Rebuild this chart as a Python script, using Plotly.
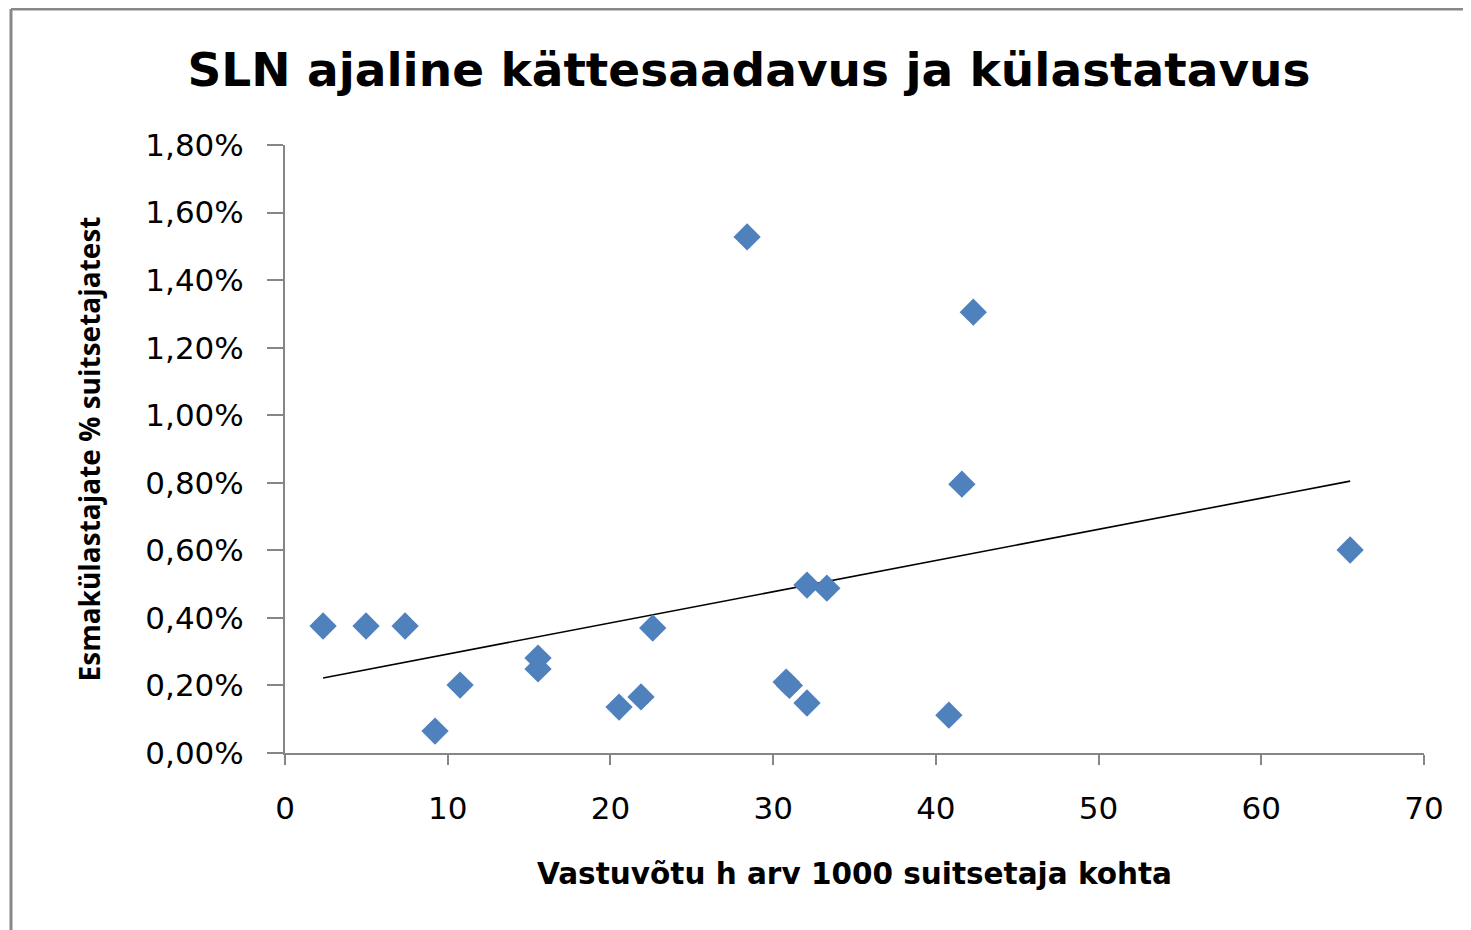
import plotly.graph_objects as go

# Data
visits_per_1000 = [2.34, 4.98, 7.38, 9.22, 10.76, 15.55, 15.55, 20.53, 21.88, 22.6,
                   28.4, 30.8, 31.0, 32.08, 32.08, 33.3, 40.8, 41.6, 42.3, 65.46]
first_visit_pct = [0.00376, 0.00376, 0.00376, 0.00065, 0.00201, 0.00281, 0.00249, 0.00136,
                   0.00166, 0.00370, 0.01528, 0.00210, 0.00200, 0.00148, 0.00497, 0.00488,
                   0.00112, 0.00796, 0.01305, 0.00601]
trend_x = [2.34, 65.46]
trend_y = [0.00222, 0.00805]

x_ticks = [0, 10, 20, 30, 40, 50, 60, 70]
y_ticks = [0, 0.002, 0.004, 0.006, 0.008, 0.010, 0.012, 0.014, 0.016, 0.018]

title_text = "SLN ajaline kättesaadavus ja külastatavus"
x_title = "Vastuvõtu h arv 1000 suitsetaja kohta"
y_title = "Esmakülastajate % suitsetajatest"

fig = go.Figure()
fig.add_trace(go.Scatter(
    x=trend_x, y=trend_y, mode="lines",
    line=dict(color="black", width=1.6), hoverinfo="skip", showlegend=False))
fig.add_trace(go.Scatter(
    x=visits_per_1000, y=first_visit_pct, mode="markers",
    marker=dict(symbol="diamond", size=21, color="#4F81BD"), showlegend=False))

# page is offset by 8px (body margin)
OFF = 8
W, H = 1471 - OFF, 930 - OFF
L, T = 285 - OFF, 145 - OFF
R = W - (1424 - OFF)
B = H - (753 - OFF)
pw, ph = W - L - R, H - T - B

def px(xp):
    return (xp - L) / pw

def py(yp):
    return (H - B - yp) / ph

fig.update_layout(
    width=W, height=H,
    margin=dict(l=L, r=R, t=T, b=B, autoexpand=False),
    paper_bgcolor="white", plot_bgcolor="white",
    separators=", ",
    title=dict(text=title_text, x=(749 - OFF) / W, xanchor="center", y=1 - (70 - OFF) / H,
               yanchor="middle",
               font=dict(family="DejaVu Sans", size=47, color="black", weight="bold")),
    xaxis=dict(range=[0, 70], tickvals=x_ticks, showgrid=False, zeroline=False,
               showline=True, linecolor="#868686", linewidth=2,
               ticks="outside", ticklen=10, tickwidth=2, tickcolor="#868686",
               tickfont=dict(family="DejaVu Sans", size=31, color="black"),
               ticklabelstandoff=17,
               title=dict(text=x_title, standoff=38,
                          font=dict(family="DejaVu Sans", size=29.5, color="black", weight="bold"))),
    yaxis=dict(range=[0, 0.018], tickvals=y_ticks, tickformat=".2%", showgrid=False,
               zeroline=False, showline=True, linecolor="#868686", linewidth=2,
               ticks="outside", ticklen=16, tickwidth=2, tickcolor="#868686",
               tickfont=dict(family="DejaVu Sans", size=31, color="black"),
               ticklabelstandoff=17,
               title=dict(text=y_title, standoff=37,
                          font=dict(family="Open Sans", size=28, color="black", weight="bold"))),
    shapes=[
        dict(type="line", xref="paper", yref="paper", x0=px(11 - OFF), x1=px(11 - OFF),
             y0=py(H + 5), y1=py(9 - OFF), line=dict(color="#888888", width=3)),
        dict(type="line", xref="paper", yref="paper", x0=px(11 - OFF), x1=px(W + 5),
             y0=py(9 - OFF), y1=py(9 - OFF), line=dict(color="#888888", width=3)),
    ],
)

fig.write_html("out.html")
